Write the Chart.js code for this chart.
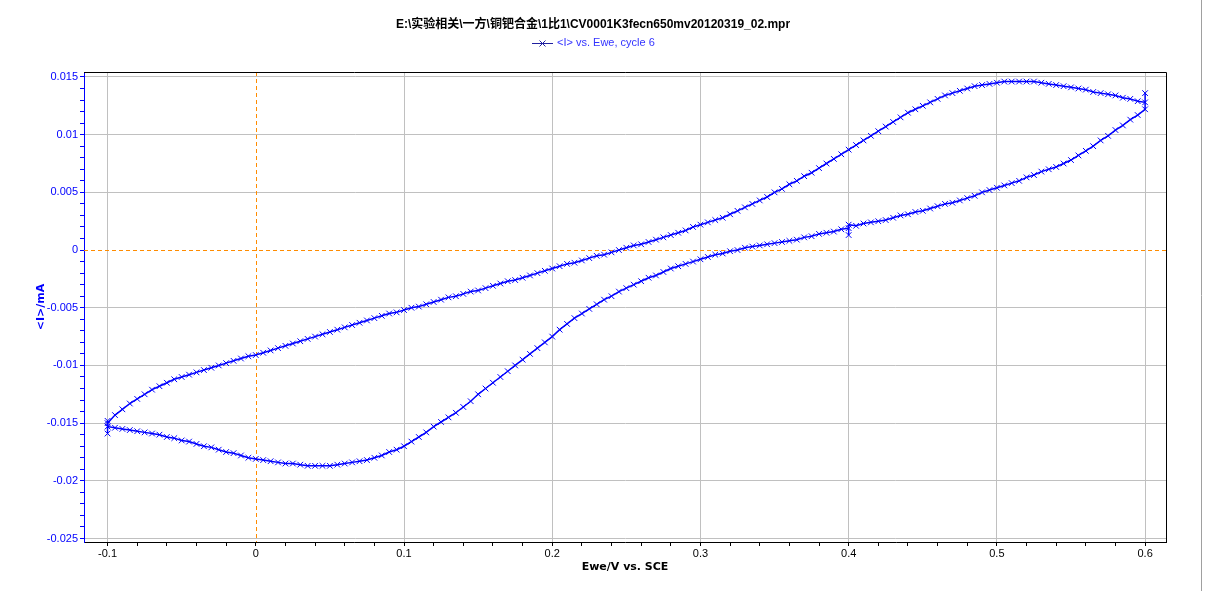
<!DOCTYPE html>
<html>
<head>
<meta charset="utf-8">
<script src="https://cdn.jsdelivr.net/npm/chart.js@4"></script>
<style>
  html, body { margin: 0; padding: 0; background: #fff; }
</style>
</head>
<body>
<canvas id="grafico" width="1205" height="591"></canvas>
<script>
// Barrido de ida (Ewe en V, <I> en mA)
const barridoIdaE = [-0.1, -0.095, -0.09, -0.085, -0.08, -0.075, -0.07, -0.065, -0.06, -0.055,
  -0.05, -0.045, -0.04, -0.035, -0.03, -0.025, -0.02, -0.015, -0.01, -0.005,
  0, 0.005, 0.01, 0.015, 0.02, 0.025, 0.03, 0.035, 0.04, 0.045,
  0.05, 0.055, 0.06, 0.065, 0.07, 0.075, 0.08, 0.085, 0.09, 0.095,
  0.1, 0.105, 0.11, 0.115, 0.12, 0.125, 0.13, 0.135, 0.14, 0.145,
  0.15, 0.155, 0.16, 0.165, 0.17, 0.175, 0.18, 0.185, 0.19, 0.195,
  0.2, 0.205, 0.21, 0.215, 0.22, 0.225, 0.23, 0.235, 0.24, 0.245,
  0.25, 0.255, 0.26, 0.265, 0.27, 0.275, 0.28, 0.285, 0.29, 0.295,
  0.3, 0.305, 0.31, 0.315, 0.32, 0.325, 0.33, 0.335, 0.34, 0.345,
  0.35, 0.355, 0.36, 0.365, 0.37, 0.375, 0.38, 0.385, 0.39, 0.395,
  0.4, 0.405, 0.41, 0.415, 0.42, 0.425, 0.43, 0.435, 0.44, 0.445,
  0.45, 0.455, 0.46, 0.465, 0.47, 0.475, 0.48, 0.485, 0.49, 0.495,
  0.5, 0.505, 0.51, 0.515, 0.52, 0.525, 0.53, 0.535, 0.54, 0.545,
  0.55, 0.555, 0.56, 0.565, 0.57, 0.575, 0.58, 0.585, 0.59, 0.595, 0.6, 0.6];
const barridoIdaI = [-0.0150, -0.0143, -0.0138, -0.0133, -0.0129, -0.0125, -0.0121, -0.0118, -0.0115, -0.0112,
  -0.0110, -0.0108, -0.0106, -0.0104, -0.0102, -0.0100, -0.0098, -0.0096, -0.0094, -0.0092,
  -0.0091, -0.0089, -0.0087, -0.0085, -0.0083, -0.0081, -0.0079, -0.0077, -0.0075, -0.0073,
  -0.0071, -0.0069, -0.0067, -0.0065, -0.0063, -0.0061, -0.0059, -0.0057, -0.0055, -0.0054,
  -0.0052, -0.0050, -0.0049, -0.0047, -0.0045, -0.0043, -0.0041, -0.0040, -0.0038, -0.0036,
  -0.0035, -0.0033, -0.0031, -0.0029, -0.0027, -0.0026, -0.0024, -0.0022, -0.0020, -0.0018,
  -0.0016, -0.0014, -0.0012, -0.0011, -0.0009, -0.0007, -0.0005, -0.0004, -0.0002, 0.0000,
  0.0002, 0.0004, 0.0005, 0.0007, 0.0009, 0.0011, 0.0013, 0.0015, 0.0017, 0.0020,
  0.0022, 0.0024, 0.0026, 0.0028, 0.0031, 0.0034, 0.0037, 0.0040, 0.0043, 0.0046,
  0.0050, 0.0053, 0.0057, 0.0060, 0.0064, 0.0067, 0.0071, 0.0075, 0.0079, 0.0083,
  0.0087, 0.0091, 0.0095, 0.0099, 0.0103, 0.0107, 0.0111, 0.0115, 0.0119, 0.0122,
  0.0125, 0.0128, 0.0131, 0.0134, 0.0136, 0.0138, 0.0140, 0.0142, 0.0143, 0.0144,
  0.0145, 0.0146, 0.0146, 0.0146, 0.0146, 0.0146, 0.0145, 0.0144, 0.0143, 0.0142,
  0.0141, 0.0140, 0.0139, 0.0137, 0.0136, 0.0135, 0.0134, 0.0132, 0.0131, 0.0129, 0.0128, 0.0136];

// Barrido de vuelta
const barridoVueltaE = [0.6, 0.595, 0.59, 0.585, 0.58, 0.575, 0.57, 0.565, 0.56, 0.555,
  0.55, 0.545, 0.54, 0.535, 0.53, 0.525, 0.52, 0.515, 0.51, 0.505,
  0.5, 0.495, 0.49, 0.485, 0.48, 0.475, 0.47, 0.465, 0.46, 0.455,
  0.45, 0.445, 0.44, 0.435, 0.43, 0.425, 0.42, 0.415, 0.41, 0.405, 0.4, 0.4, 0.4,
  0.395, 0.39, 0.385, 0.38, 0.375, 0.37, 0.365, 0.36, 0.355,
  0.35, 0.345, 0.34, 0.335, 0.33, 0.325, 0.32, 0.315, 0.31, 0.305,
  0.3, 0.295, 0.29, 0.285, 0.28, 0.275, 0.27, 0.265, 0.26, 0.255,
  0.25, 0.245, 0.24, 0.235, 0.23, 0.225, 0.22, 0.215, 0.21, 0.205,
  0.2, 0.195, 0.19, 0.185, 0.18, 0.175, 0.17, 0.165, 0.16, 0.155,
  0.15, 0.145, 0.14, 0.135, 0.13, 0.125, 0.12, 0.115, 0.11, 0.105,
  0.1, 0.095, 0.09, 0.085, 0.08, 0.075, 0.07, 0.065, 0.06, 0.055,
  0.05, 0.045, 0.04, 0.035, 0.03, 0.025, 0.02, 0.015, 0.01, 0.005,
  0, -0.005, -0.01, -0.015, -0.02, -0.025, -0.03, -0.035, -0.04, -0.045,
  -0.05, -0.055, -0.06, -0.065, -0.07, -0.075, -0.08, -0.085, -0.09, -0.095, -0.1, -0.1, -0.1];
const barridoVueltaI = [0.0122, 0.0117, 0.0113, 0.0108, 0.0104, 0.0099, 0.0095, 0.0090, 0.0086, 0.0082,
  0.0078, 0.0075, 0.0072, 0.0070, 0.0068, 0.0065, 0.0063, 0.0060, 0.0058, 0.0056,
  0.0054, 0.0052, 0.0050, 0.0047, 0.0045, 0.0043, 0.0041, 0.0040, 0.0038, 0.0036,
  0.0034, 0.0033, 0.0031, 0.0030, 0.0028, 0.0026, 0.0025, 0.0024, 0.0023, 0.0021, 0.0022, 0.0013, 0.0019,
  0.0018, 0.0016, 0.0015, 0.0014, 0.0012, 0.0011, 0.0009, 0.0008, 0.0007,
  0.0006, 0.0005, 0.0004, 0.0003, 0.0002, 0.0000, -0.0001, -0.0003, -0.0004, -0.0006,
  -0.0008, -0.0010, -0.0012, -0.0014, -0.0016, -0.0019, -0.0022, -0.0024, -0.0027, -0.0030,
  -0.0033, -0.0036, -0.0040, -0.0043, -0.0047, -0.0051, -0.0055, -0.0059, -0.0064, -0.0069,
  -0.0075, -0.0080, -0.0085, -0.0090, -0.0095, -0.0100, -0.0105, -0.0110, -0.0115, -0.0120,
  -0.0125, -0.0131, -0.0136, -0.0141, -0.0145, -0.0149, -0.0153, -0.0158, -0.0162, -0.0166,
  -0.0170, -0.0173, -0.0175, -0.0178, -0.0180, -0.0182, -0.0183, -0.0184, -0.0185, -0.0186,
  -0.0187, -0.0187, -0.0187, -0.0187, -0.0186, -0.0185, -0.0185, -0.0184, -0.0183, -0.0182,
  -0.0181, -0.0180, -0.0178, -0.0176, -0.0175, -0.0173, -0.0171, -0.0170, -0.0168, -0.0166,
  -0.0165, -0.0163, -0.0162, -0.0160, -0.0159, -0.0158, -0.0157, -0.0156, -0.0155, -0.0154, -0.0153, -0.0159, -0.0148];

// Ticks y etiquetas de los ejes
const ticksX = [-0.1, 0, 0.1, 0.2, 0.3, 0.4, 0.5, 0.6];
const etiquetasX = ['-0.1', '0', '0.1', '0.2', '0.3', '0.4', '0.5', '0.6'];
const ticksY = [0.015, 0.01, 0.005, 0, -0.005, -0.01, -0.015, -0.02, -0.025];
const etiquetasY = ['0.015', '0.01', '0.005', '0', '-0.005', '-0.01', '-0.015', '-0.02', '-0.025'];

const titulo = 'E:\\实验相关\\一方\\铜钯合金\\1比1\\CV0001K3fecn650mv20120319_02.mpr';
const leyenda = '<I> vs. Ewe, cycle 6';

const azul = '#0000ff';
const gris = '#c0c0c0';
const naranja = '#ff8c00';

const puntos = [];
barridoIdaE.forEach((e, i) => puntos.push({ x: e, y: barridoIdaI[i] }));
barridoVueltaE.forEach((e, i) => puntos.push({ x: e, y: barridoVueltaI[i] }));

function esMayor(valor, lista) {
  return lista.findIndex(t => Math.abs(t - valor) < 1e-9);
}

// Lineas de cero, marco, titulo y leyenda
const marco = {
  id: 'marco',
  beforeDatasetsDraw(chart) {
    const { ctx, chartArea: a, scales: { x, y } } = chart;
    ctx.save();
    ctx.strokeStyle = naranja;
    ctx.lineWidth = 1;
    ctx.setLineDash([4, 3]);
    const y0 = Math.round(y.getPixelForValue(0)) + 0.5;
    const x0 = Math.round(x.getPixelForValue(0)) + 0.5;
    ctx.beginPath();
    ctx.moveTo(a.left, y0); ctx.lineTo(a.right, y0);
    ctx.moveTo(x0, a.top); ctx.lineTo(x0, a.bottom);
    ctx.stroke();
    ctx.restore();
  },
  afterDraw(chart) {
    const { ctx, chartArea: a } = chart;
    ctx.save();
    ctx.lineWidth = 1;
    ctx.strokeStyle = '#000';
    ctx.beginPath();
    ctx.moveTo(a.left, Math.round(a.top) + 0.5);
    ctx.lineTo(Math.round(a.right) + 0.5, Math.round(a.top) + 0.5);
    ctx.lineTo(Math.round(a.right) + 0.5, a.bottom);
    ctx.stroke();

    // borde de ventana a la derecha
    ctx.strokeStyle = '#a0a0a0';
    ctx.beginPath();
    ctx.moveTo(1201.5, 0); ctx.lineTo(1201.5, 591);
    ctx.stroke();

    // titulo
    ctx.fillStyle = '#000';
    ctx.font = 'bold 12px "Liberation Sans", "Noto Sans CJK SC", sans-serif';
    ctx.textAlign = 'center';
    ctx.textBaseline = 'middle';
    ctx.fillText(titulo, 593, 25);

    // leyenda
    ctx.strokeStyle = '#2020a0';
    ctx.beginPath();
    ctx.moveTo(532, 43.5); ctx.lineTo(553, 43.5);
    ctx.moveTo(539.5, 40.5); ctx.lineTo(545.5, 46.5);
    ctx.moveTo(545.5, 40.5); ctx.lineTo(539.5, 46.5);
    ctx.stroke();
    ctx.fillStyle = '#3333ff';
    ctx.font = '11px "Liberation Sans", sans-serif';
    ctx.textAlign = 'left';
    ctx.fillText(leyenda, 557, 43);
    ctx.restore();
  }
};

new Chart(document.getElementById('grafico'), {
  type: 'scatter',
  data: {
    datasets: [{
      label: leyenda,
      data: puntos,
      showLine: true,
      borderColor: azul,
      borderWidth: 1.5,
      pointStyle: 'crossRot',
      pointRadius: 4,
      pointBorderWidth: 1,
      pointBorderColor: azul,
      tension: 0
    }]
  },
  options: {
    responsive: false,
    animation: false,
    devicePixelRatio: 1,
    layout: { padding: { top: 72, right: 39, left: 0, bottom: 0 } },
    plugins: { legend: { display: false }, title: { display: false }, tooltip: { enabled: false } },
    scales: {
      x: {
        type: 'linear',
        min: -0.1159,
        max: 0.6141,
        afterFit: s => { s.height = 49; },
        border: { color: '#000', width: 1 },
        grid: {
          color: c => (esMayor(c.tick.value, ticksX) >= 0 && Math.abs(c.tick.value) > 1e-9) ? gris : 'rgba(0,0,0,0)',
          tickColor: '#000',
          tickLength: 4
        },
        ticks: {
          stepSize: 0.02,
          includeBounds: false,
          autoSkip: false,
          maxRotation: 0,
          padding: 1,
          color: '#000',
          font: { family: '"Liberation Sans", sans-serif', size: 11 },
          callback: v => { const i = esMayor(v, ticksX); return i >= 0 ? etiquetasX[i] : ''; }
        },
        title: {
          display: true,
          text: 'Ewe/V vs. SCE',
          color: '#000',
          font: { family: '"DejaVu Sans", sans-serif', size: 11, weight: 'bold' },
          padding: { top: 0, bottom: 17 }
        }
      },
      y: {
        type: 'linear',
        min: -0.0253,
        max: 0.01543,
        afterFit: s => { s.width = 84; },
        border: { color: azul, width: 1 },
        grid: {
          color: c => (esMayor(c.tick.value, ticksY) >= 0 && Math.abs(c.tick.value) > 1e-9) ? gris : 'rgba(0,0,0,0)',
          tickColor: azul,
          tickLength: 4
        },
        ticks: {
          stepSize: 0.001,
          includeBounds: false,
          autoSkip: false,
          padding: 2,
          color: azul,
          font: { family: '"Liberation Sans", sans-serif', size: 11 },
          callback: v => { const i = esMayor(v, ticksY); return i >= 0 ? etiquetasY[i] : ''; }
        },
        title: {
          display: true,
          text: '<I>/mA',
          color: azul,
          font: { family: '"DejaVu Sans", sans-serif', size: 11, weight: 'bold' },
          padding: { top: 35, bottom: 0 }
        }
      }
    }
  },
  plugins: [marco]
});
</script>
</body>
</html>
